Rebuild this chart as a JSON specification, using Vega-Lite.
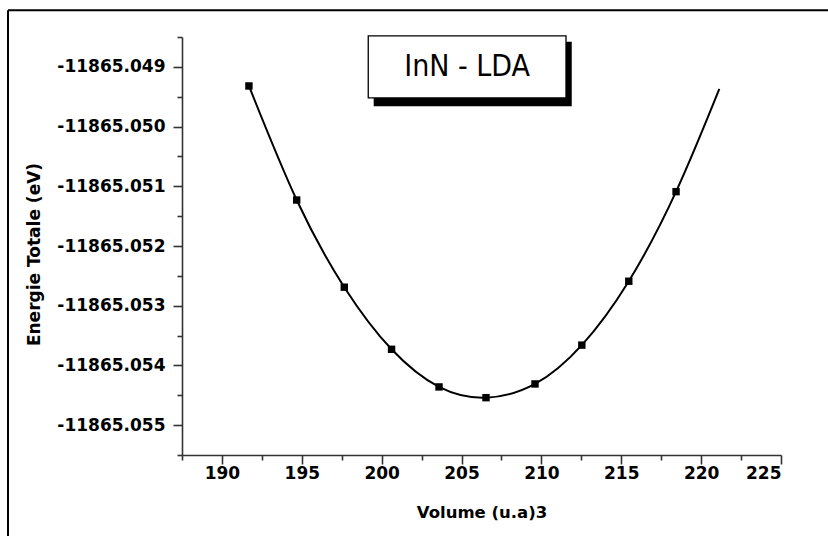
{
  "$schema": "https://vega.github.io/schema/vega-lite/v6.json",
  "width": 599,
  "height": 418,
  "autosize": {"type": "none"},
  "padding": {"left": 182, "top": 37, "right": 47, "bottom": 81},
  "background": "white",
  "config": {
    "view": {"stroke": null},
    "axis": {
      "grid": false,
      "domainColor": "#333333",
      "domainWidth": 1.6,
      "tickColor": "#333333",
      "tickWidth": 1.6,
      "tickSize": 9,
      "labelFont": "DejaVu Sans",
      "labelFontWeight": "bold",
      "labelFontSize": 17,
      "labelColor": "#000000",
      "titleFont": "DejaVu Sans",
      "titleFontWeight": "bold",
      "titleFontSize": 16.5,
      "titleColor": "#000000"
    }
  },
  "datasets": {
    "points": [
      {"volume": 191.69, "energie": -11865.04932},
      {"volume": 194.68, "energie": -11865.05123},
      {"volume": 197.66, "energie": -11865.05269},
      {"volume": 200.62, "energie": -11865.05373},
      {"volume": 203.59, "energie": -11865.05436},
      {"volume": 206.53, "energie": -11865.05454},
      {"volume": 209.60, "energie": -11865.05431},
      {"volume": 212.53, "energie": -11865.05366},
      {"volume": 215.47, "energie": -11865.05259},
      {"volume": 218.43, "energie": -11865.05109}
    ],
    "fit": [
      {"volume": 191.69, "energie": -11865.04932},
      {"volume": 194.68, "energie": -11865.05123},
      {"volume": 197.66, "energie": -11865.05269},
      {"volume": 200.62, "energie": -11865.05373},
      {"volume": 203.59, "energie": -11865.05436},
      {"volume": 206.53, "energie": -11865.05454},
      {"volume": 209.60, "energie": -11865.05431},
      {"volume": 212.53, "energie": -11865.05366},
      {"volume": 215.47, "energie": -11865.05259},
      {"volume": 218.43, "energie": -11865.05109},
      {"volume": 221.14, "energie": -11865.04937}
    ],
    "label": [
      {"texte": "InN - LDA"}
    ]
  },
  "resolve": {"axis": {"x": "independent", "y": "independent"}},
  "layer": [
    {
      "data": {"name": "fit"},
      "mark": {"type": "line", "color": "#000000", "strokeWidth": 2, "interpolate": "natural", "clip": false},
      "encoding": {
        "x": {
          "field": "volume", "type": "quantitative",
          "scale": {"domain": [187.5, 225], "nice": false, "zero": false},
          "axis": {
            "orient": "bottom",
            "values": [190, 195, 200, 205, 210, 215, 220, 225],
            "labelPadding": 1,
            "title": "Volume (u.a)3",
            "titlePadding": 23
          }
        },
        "y": {
          "field": "energie", "type": "quantitative",
          "scale": {"domain": [-11865.0555, -11865.0485], "nice": false, "zero": false},
          "axis": {
            "orient": "left",
            "values": [-11865.055, -11865.054, -11865.053, -11865.052, -11865.051, -11865.05, -11865.049],
            "labelExpr": "replace(format(datum.value, '.3f'), '\u2212', '-')",
            "labelPadding": 8,
            "title": "Energie Totale (eV)",
            "titleFontSize": 17,
            "titlePadding": 13,
            "titleY": 217
          }
        }
      }
    },
    {
      "data": {"name": "points"},
      "mark": {"type": "point", "shape": "square", "filled": true, "color": "#000000", "size": 55, "opacity": 1},
      "encoding": {
        "x": {
          "field": "volume", "type": "quantitative",
          "axis": {
            "orient": "bottom",
            "values": [187.5, 192.5, 197.5, 202.5, 207.5, 212.5, 217.5, 222.5],
            "labels": false,
            "tickSize": 5,
            "domain": false,
            "title": null
          }
        },
        "y": {
          "field": "energie", "type": "quantitative",
          "axis": {
            "orient": "left",
            "values": [-11865.0555, -11865.0545, -11865.0535, -11865.0525, -11865.0515, -11865.0505, -11865.0495, -11865.0485],
            "labels": false,
            "tickSize": 5,
            "domain": false,
            "title": null
          }
        }
      }
    },
    {
      "data": {"name": "label"},
      "mark": {"type": "rect", "color": "#000000", "clip": false},
      "encoding": {
        "x": {"datum": 199.5, "type": "quantitative", "axis": null},
        "x2": {"datum": 211.9},
        "y": {"datum": -11865.04858, "type": "quantitative", "axis": null},
        "y2": {"datum": -11865.04966}
      }
    },
    {
      "data": {"name": "label"},
      "mark": {"type": "rect", "fill": "#ffffff", "stroke": "#000000", "strokeWidth": 1.3, "clip": false},
      "encoding": {
        "x": {"datum": 199.16, "type": "quantitative", "axis": null},
        "x2": {"datum": 211.54},
        "y": {"datum": -11865.04848, "type": "quantitative", "axis": null},
        "y2": {"datum": -11865.04952}
      }
    },
    {
      "data": {"name": "label"},
      "mark": {"type": "text", "font": "DejaVu Sans Condensed, Liberation Sans Narrow, Roboto, sans-serif", "fontSize": 30, "color": "#000000", "align": "center", "baseline": "alphabetic", "clip": false},
      "encoding": {
        "text": {"field": "texte"},
        "x": {"datum": 205.35, "type": "quantitative", "axis": null},
        "y": {"datum": -11865.04915, "type": "quantitative", "axis": null}
      }
    },
    {
      "data": {"name": "label"},
      "mark": {"type": "rule", "color": "#000000", "strokeWidth": 2, "clip": false},
      "encoding": {
        "x": {"datum": 176.607, "type": "quantitative", "axis": null},
        "x2": {"datum": 228.5},
        "y": {"datum": -11865.04805, "type": "quantitative", "axis": null}
      }
    },
    {
      "data": {"name": "label"},
      "mark": {"type": "rule", "color": "#000000", "strokeWidth": 2, "clip": false},
      "encoding": {
        "x": {"datum": 176.607, "type": "quantitative", "axis": null},
        "y": {"datum": -11865.04805, "type": "quantitative", "axis": null},
        "y2": {"datum": -11865.0570}
      }
    }
  ]
}
